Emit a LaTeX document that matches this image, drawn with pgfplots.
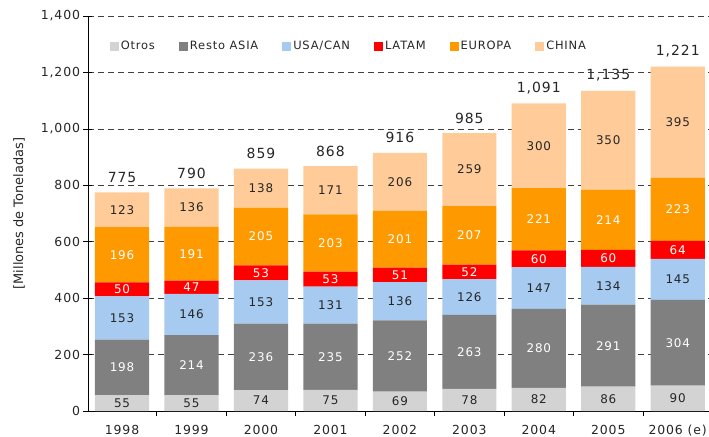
\documentclass[border=0pt]{standalone}
\usepackage{fontspec}
\setmainfont[LetterSpace=7]{DejaVu Sans}
\newfontfamily\plainfont{DejaVu Sans}
\usepackage{pgfplots}
\pgfplotsset{compat=1.18}
\definecolor{otros}{RGB}{211,211,211}
\definecolor{resto}{RGB}{128,128,128}
\definecolor{usacan}{RGB}{166,202,240}
\definecolor{latam}{RGB}{255,0,0}
\definecolor{europa}{RGB}{255,153,0}
\definecolor{china}{RGB}{255,204,153}

\pgfplotsset{
  base/.style={
    scale only axis,
    width=621bp, height=395bp,
    bar width=0.78,
    xmin=-0.49, xmax=8.45,
    ymin=0, ymax=1400,
    /pgf/number format/assume math mode=true,
    /pgf/number format/1000 sep={,},
  },
}

\begin{document}
\begin{tikzpicture}
\begin{axis}[
  base,
  ybar stacked,
  ytick={0,200,...,1400},
  xtick={0,...,8},
  xticklabels={1998,1999,2000,2001,2002,2003,2004,2005,2006 (e)},
  major x tick style={draw=none},
  minor xtick={0.5,1.5,...,7.5},
  minor x tick style={black, line width=0.7pt},
  axis lines*=left,
  axis line style={black, line width=0.9pt},
  y tick style={black, line width=0.7pt},
  xtick align=outside,
  ytick align=center,
  major tick length=9bp,
  minor tick length=5bp,
  ymajorgrids=true,
  grid style={black!75, dashed, dash pattern=on 6bp off 4bp, line width=0.6pt},
  tick label style={font=\fontsize{12.5}{14}\selectfont, text=black!85},
  xticklabel style={yshift=-2bp},
  ylabel={[Millones de Toneladas]},
  every axis y label/.style={at={(axis description cs:-0.111,0.5)}, rotate=90,
    anchor=center, font=\plainfont\fontsize{13}{15}\selectfont, text=black!85},
  nodes near coords,
  nodes near coords style={font=\fontsize{12}{14}\selectfont},
  legend columns=6,
  legend style={draw=none, fill=none, at={(0.03,0.924)}, anchor=west,
    font=\fontsize{11.5}{13}\selectfont, text=black!85,
    /tikz/every even column/.append style={column sep=22bp}},
  legend image code/.code={\fill[#1] (0bp,-4.5bp) rectangle (9bp,4.5bp);},
]
\addplot[fill=otros, draw=none, nodes near coords style={text=black!85}] coordinates {
  (0,55) (1,55) (2,74) (3,75) (4,69) (5,78) (6,82) (7,86) (8,90)};
\addlegendentry{Otros}
\addplot[fill=resto, draw=none, nodes near coords style={text=white}] coordinates {
  (0,198) (1,214) (2,236) (3,235) (4,252) (5,263) (6,280) (7,291) (8,304)};
\addlegendentry{Resto ASIA}
\addplot[fill=usacan, draw=none, nodes near coords style={text=black!85}] coordinates {
  (0,153) (1,146) (2,153) (3,131) (4,136) (5,126) (6,147) (7,134) (8,145)};
\addlegendentry{USA/CAN}
\addplot[fill=latam, draw=none, nodes near coords style={text=white}] coordinates {
  (0,50) (1,47) (2,53) (3,53) (4,51) (5,52) (6,60) (7,60) (8,64)};
\addlegendentry{LATAM}
\addplot[fill=europa, draw=none, nodes near coords style={text=white}] coordinates {
  (0,196) (1,191) (2,205) (3,203) (4,201) (5,207) (6,221) (7,214) (8,223)};
\addlegendentry{EUROPA}
\addplot[fill=china, draw=none, nodes near coords style={text=black!85}] coordinates {
  (0,123) (1,136) (2,138) (3,171) (4,206) (5,259) (6,300) (7,350) (8,395)};
\addlegendentry{CHINA}
\end{axis}
\begin{axis}[
  base,
  ybar,
  hide axis,
  nodes near coords,
  point meta=explicit,
  nodes near coords style={text=black!85, anchor=south, yshift=6bp,
    font=\fontsize{14}{16}\selectfont},
]
\addplot[draw=none, fill=none] coordinates {
  (0,775) [775] (1,790) [790] (2,859) [859] (3,868) [868] (4,916) [916]
  (5,985) [985] (6,1091) [1091] (7,1135) [1135] (8,1221) [1221]};
\end{axis}
\pgfresetboundingbox
\path[use as bounding box] (-88bp,-26bp) rectangle (621bp,411bp);
\end{tikzpicture}
\end{document}
